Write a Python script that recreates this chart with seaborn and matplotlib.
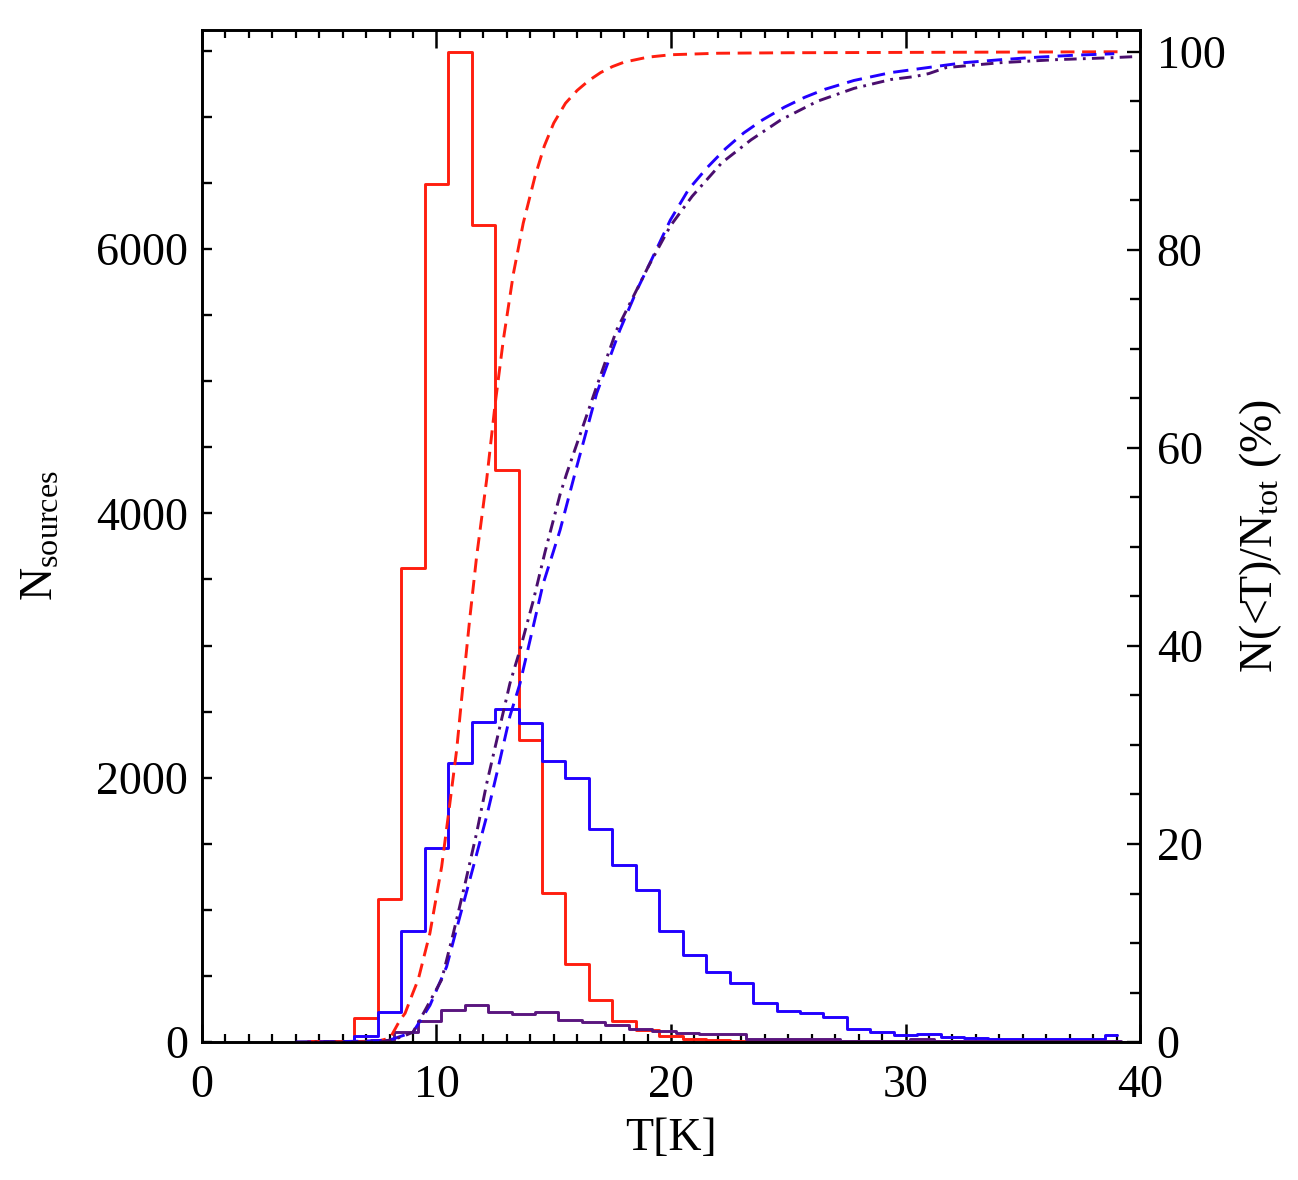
import numpy as np
import pandas as pd
import matplotlib
matplotlib.use("Agg")
import matplotlib.pyplot as plt
from matplotlib.ticker import MultipleLocator
import seaborn as sns

# histogram counts per 1 K bin (bin centres)
red_T = list(range(4, 40))
red_N = [2, 5, 10, 182, 1080, 3586, 6490, 7490, 6185, 4328, 2285, 1126, 593, 316,
         157, 93, 47, 20, 14, 8, 7, 6, 6, 5, 5, 5, 6, 7, 5, 5, 5, 5, 5, 5, 5, 4]

blue_T = list(range(4, 40))
blue_N = [2, 3, 8, 45, 226, 840, 1470, 2115, 2421, 2520, 2414, 2127, 2000, 1615,
          1342, 1150, 840, 655, 532, 446, 295, 234, 219, 189, 98, 78, 53, 60, 40,
          33, 23, 25, 23, 23, 25, 53]

purple_T = [4.7 + i for i in range(36)]
purple_N = [3, 5, 8, 15, 78, 157, 240, 278, 230, 215, 227, 166, 150, 129, 96, 85,
            66, 58, 58, 23, 23, 22, 20, 10, 8, 8, 22, 8, 6, 5, 5, 5, 5, 5, 5, 2]

# cumulative fractions N(<T)/N_tot in %
red_cT = [4.5, 6.5, 7.5, 8.02, 8.44, 8.66, 9.0, 9.22, 9.72, 10.22, 10.5, 10.86, 11.14,
          11.43, 11.71, 12.14, 12.49, 12.85, 13.28, 13.7, 14.2, 14.6, 15.0, 15.5,
          16.0, 16.5, 17.0, 17.5, 18.0, 19.0, 20.0, 22.0, 25.0, 39.1]
red_cP = [0.0, 0.05, 0.1, 0.4, 2.2, 2.9, 5.0, 6.3, 11.0, 17.7, 22.8, 29.5, 36.3,
          43.0, 49.0, 56.8, 64.2, 70.9, 77.6, 82.7, 87.4, 90.5, 92.8, 94.8,
          96.1, 97.1, 97.9, 98.5, 98.95, 99.45, 99.7, 99.85, 99.9, 100.0]

blue_cT = [4.0, 6.0, 7.0, 8.0, 9.0, 9.72, 10.43, 11.0, 11.57, 12.14, 12.64, 13.13,
           13.56, 14.06, 14.55, 14.98, 15.27, 15.98, 16.83, 17.82, 18.56, 19.03,
           19.97, 20.75, 21.54, 22.32, 23.1, 23.89, 24.83, 25.7, 26.55, 27.8, 29.38,
           30.94, 32.5, 34.07, 35.6, 37.2, 38.9]
blue_cP = [0.0, 0.05, 0.1, 0.2, 1.0, 3.7, 7.6, 12.7, 17.7, 22.8, 27.8, 32.9,
           36.2, 41.3, 46.3, 49.5, 51.7, 58.1, 65.5, 71.9, 76.0, 78.3,
           83.0, 86.1, 88.3, 90.2, 91.8, 93.1, 94.4, 95.4, 96.2, 97.1, 97.9,
           98.4, 98.9, 99.2, 99.45, 99.65, 99.8]

purple_cT = [4.0, 7.6, 8.0, 8.5, 9.0, 9.58, 10.22, 10.72, 11.22, 11.71, 12.14, 12.64,
             13.13, 13.56, 14.13, 14.63, 15.27, 15.55, 16.83, 17.68, 19.03, 19.97,
             20.9, 22.17, 23.41, 24.67, 26.24, 27.8, 29.38, 30.4, 31.0, 31.73,
             34.07, 36.4, 38.78, 39.7]
purple_cP = [0.0, 0.0, 0.2, 0.5, 1.0, 3.5, 6.3, 11.0, 16.0, 21.1, 26.1, 31.2,
             36.2, 39.6, 44.6, 49.5, 55.3, 57.4, 66.2, 71.9, 78.3, 82.4,
             85.4, 88.8, 91.1, 93.1, 95.0, 96.3, 97.2, 97.5, 97.8, 98.4,
             98.9, 99.2, 99.4, 99.5]

RED = "#ff1e0f"
BLUE = "#2200ff"
PURPLE = "#5a167f"
PURPLE_D = "#4a0e6e"

sns.set_style("ticks")
plt.rcParams['font.family'] = ['Liberation Serif', 'DejaVu Serif']
plt.rcParams['mathtext.fontset'] = 'custom'
plt.rcParams['mathtext.rm'] = 'Liberation Serif'
plt.rcParams['mathtext.it'] = 'Liberation Serif:italic'
plt.rcParams['lines.scale_dashes'] = False
plt.rcParams['axes.edgecolor'] = 'black'
plt.rcParams['axes.labelcolor'] = 'black'
plt.rcParams['text.color'] = 'black'
plt.rcParams['xtick.color'] = 'black'
plt.rcParams['ytick.color'] = 'black'
plt.rcParams['axes.linewidth'] = 1.9

fig = plt.figure(figsize=(12.98, 11.80), dpi=100)
ax = fig.add_axes([0.1556, 0.1169, 0.7227, 0.8577])

lw = 2.1
sns.lineplot(x=red_T, y=red_N, ax=ax, color=RED, lw=lw, drawstyle='steps-mid', estimator=None)
sns.lineplot(x=blue_T, y=blue_N, ax=ax, color=BLUE, lw=lw, drawstyle='steps-mid', estimator=None)
sns.lineplot(x=purple_T, y=purple_N, ax=ax, color=PURPLE, lw=lw, drawstyle='steps-mid', estimator=None)

ax2 = ax.twinx()
sns.lineplot(x=red_cT, y=red_cP, ax=ax2, color=RED, lw=lw, linestyle=(0, (10, 5.5)), estimator=None)
sns.lineplot(x=blue_cT, y=blue_cP, ax=ax2, color=BLUE, lw=lw, linestyle=(0, (11, 6)), estimator=None)
sns.lineplot(x=purple_cT, y=purple_cP, ax=ax2, color=PURPLE_D, lw=lw,
             linestyle=(0, (9, 4.5, 2, 4.5)), estimator=None)

ax.set_xlim(0, 40)
ax.set_ylim(0, 7657)
ax2.set_ylim(0, 102.2)

ax.xaxis.set_major_locator(MultipleLocator(10))
ax.xaxis.set_minor_locator(MultipleLocator(1))
ax.yaxis.set_major_locator(MultipleLocator(2000))
ax.yaxis.set_minor_locator(MultipleLocator(500))
ax2.yaxis.set_major_locator(MultipleLocator(20))
ax2.yaxis.set_minor_locator(MultipleLocator(5))

fs = 33
ax.tick_params(axis='x', which='both', direction='in', top=True, bottom=True, labelsize=fs)
ax.tick_params(axis='x', which='major', length=13, width=1.8, pad=16)
ax.tick_params(axis='x', which='minor', length=6, width=1.6)
ax.tick_params(axis='y', which='both', direction='in', left=True, right=False,
               length=7.5, width=1.7, labelsize=fs, pad=10)
ax2.tick_params(axis='y', which='both', direction='in', right=True, left=False,
                width=1.7, labelsize=fs, pad=12)
ax2.tick_params(axis='y', which='major', length=9.5)
ax2.tick_params(axis='y', which='minor', length=7)

ax.set_xlabel('T[K]', fontsize=fs)
ax.set_ylabel(r'N$_{\mathrm{sources}}$', fontsize=fs)
ax2.set_ylabel(r'N(<T)/N$_{\mathrm{tot}}$ (%)', fontsize=fs)
ax.xaxis.set_label_coords(0.5, -0.075)
ax.yaxis.set_label_coords(-0.148, 0.5)
ax2.yaxis.set_label_coords(1.104, 0.5)

fig.savefig("out.png", dpi=100)
